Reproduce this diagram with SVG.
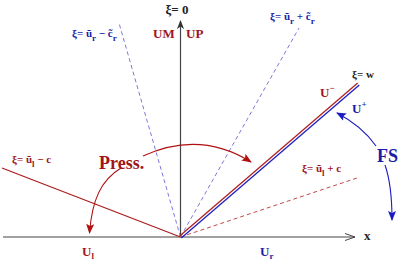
<svg xmlns="http://www.w3.org/2000/svg" width="401" height="260" viewBox="0 0 401 260">
<style>
text{font-family:"Liberation Serif","Times New Roman",serif;font-weight:bold}
.red{fill:#a01418}
.blue{fill:#1c1ca8}
.lbl{font-size:11px}
.sub{font-size:9px}
.big{font-size:18px}
.mid{font-size:13px}
</style>
<defs>
<marker id="ar" viewBox="0 0 10 10" refX="9" refY="5" markerWidth="10" markerHeight="10" markerUnits="userSpaceOnUse" orient="auto">
<path d="M0,1 L10,5 L0,9 L2,5 Z" fill="#b01010"/>
</marker>
<marker id="ab" viewBox="0 0 10 10" refX="9" refY="5" markerWidth="10" markerHeight="10" markerUnits="userSpaceOnUse" orient="auto">
<path d="M0,1 L10,5 L0,9 L2,5 Z" fill="#1c1cc0"/>
</marker>
<marker id="ak" viewBox="0 0 10 10" refX="9" refY="5" markerWidth="9" markerHeight="9" markerUnits="userSpaceOnUse" orient="auto">
<path d="M0,1 L10,5 L0,9 L3,5 Z" fill="#333"/>
</marker>
</defs>
<g id="connectors" fill="none">
<line x1="3" y1="237" x2="355" y2="237" stroke="#444" stroke-width="1.2"/>
<polyline points="345,233.5 355,237 345,240.5" stroke="#444" stroke-width="1"/>
<line x1="180.5" y1="237" x2="180.5" y2="21" stroke="#444" stroke-width="1.2" marker-end="url(#ak)"/>
<line x1="180.5" y1="237" x2="119" y2="23" stroke="#7a7ad8" stroke-width="1" stroke-dasharray="4,3"/>
<line x1="180.5" y1="237" x2="299" y2="28" stroke="#7a7ad8" stroke-width="1" stroke-dasharray="4,3"/>
<line x1="180.5" y1="237" x2="357" y2="178" stroke="#c04848" stroke-width="1" stroke-dasharray="4,3"/>
<line x1="180.5" y1="237" x2="2" y2="168" stroke="#a81c1c" stroke-width="1.2"/>
<line x1="179.7" y1="236.1" x2="357.7" y2="83.1" stroke="#b02020" stroke-width="1.3"/>
<line x1="181.3" y1="237.9" x2="359.3" y2="84.9" stroke="#2020c0" stroke-width="1.3"/>
<path d="M143,156 Q200,130 251,162" stroke="#b01010" stroke-width="1.1" marker-end="url(#ar)"/>
<path d="M121,168 C101,180 92,200 89.5,233" stroke="#b01010" stroke-width="1.1" marker-end="url(#ar)"/>
<path d="M376,146 Q362,126 337,113" stroke="#1c1cc0" stroke-width="1.1" marker-end="url(#ab)"/>
<path d="M385,165 Q392,185 392,220" stroke="#1c1cc0" stroke-width="1.1" marker-end="url(#ab)"/>
</g>
<g id="axis-labels">
<text x="177" y="14" class="mid" text-anchor="middle" fill="#222">ξ= 0</text>
<text x="364" y="240" class="mid" fill="#222">x</text>
</g>
<g id="UM"><text x="153" y="38" class="mid red">UM</text></g>
<g id="UP"><text x="186" y="38" class="mid red">UP</text></g>
<g id="lbl-urmc"><text x="72" y="37" class="lbl blue">ξ= ũ<tspan class="sub" dy="4">r</tspan><tspan dy="-4"> − c̃</tspan><tspan class="sub" dy="4">r</tspan></text></g>
<g id="lbl-urpc"><text x="270" y="20" class="lbl blue">ξ= ũ<tspan class="sub" dy="4">r</tspan><tspan dy="-4"> + c̃</tspan><tspan class="sub" dy="4">r</tspan></text></g>
<g id="lbl-w"><text x="352" y="78" class="lbl" fill="#222">ξ= w</text></g>
<g id="Uminus"><text x="320" y="97" class="mid red">U<tspan class="sub" dy="-6">−</tspan></text></g>
<g id="Uplus"><text x="352" y="113" class="mid blue">U<tspan class="sub" dy="-6">+</tspan></text></g>
<g id="FS"><text x="377" y="162" class="big blue">FS</text></g>
<g id="lbl-ulmc"><text x="12" y="163" class="lbl red">ξ= ũ<tspan class="sub" dy="4">l</tspan><tspan dy="-4"> − c</tspan></text></g>
<g id="lbl-ulpc"><text x="302" y="172" class="lbl red">ξ= ũ<tspan class="sub" dy="4">l</tspan><tspan dy="-4"> + c</tspan></text></g>
<g id="Press"><text x="99" y="169" class="big red">Press.</text></g>
<g id="Ul"><text x="82" y="256" class="mid red">U<tspan class="sub" dy="3">l</tspan></text></g>
<g id="Ur"><text x="260" y="256" class="mid blue">U<tspan class="sub" dy="3">r</tspan></text></g>
</svg>
